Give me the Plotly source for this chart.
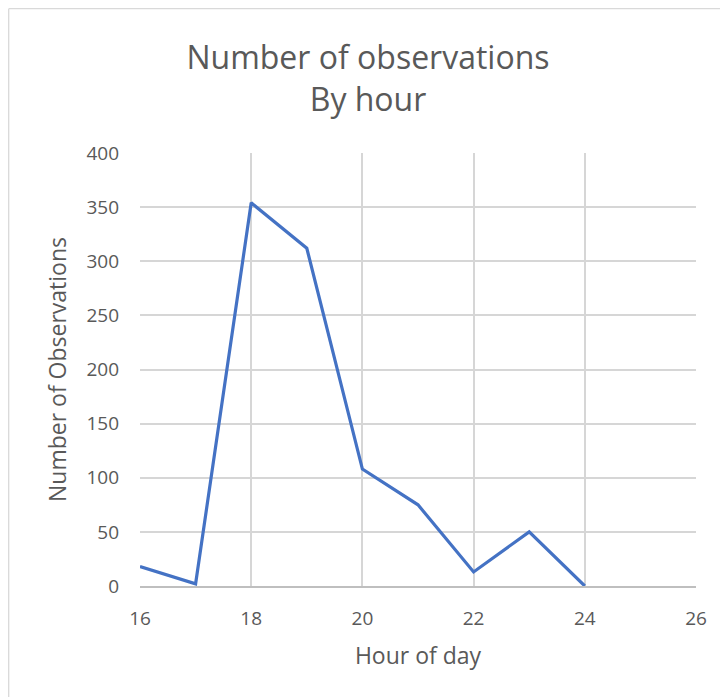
import plotly.graph_objects as go

hours = [16, 17, 18, 19, 20, 21, 22, 23, 24]
observations = [18, 2, 354, 312, 108, 75, 13, 50, 0]

# page body has an 8px margin, so the figure is drawn 8px in and down
W, H = 720, 689
L, T = 132, 145
R, B = 32, 111
pw, ph = W - L - R, H - T - B

fig = go.Figure(go.Scatter(
    x=hours, y=observations, mode="lines",
    line=dict(color="#4472c4", width=3.2), hoverinfo="x+y"))

font = "'Open Sans', Lato, sans-serif"
fig.update_layout(
    width=W, height=H, margin=dict(l=L, r=R, t=T, b=B, autoexpand=False),
    paper_bgcolor="white", plot_bgcolor="white", showlegend=False,
    font=dict(family=font, color="#595959"),
    title=dict(text="Number of observations<br>By hour", x=0.5, xanchor="center",
               y=1 - 61 / H, yanchor="middle", font=dict(size=32, color="#595959")),
    xaxis=dict(range=[16, 26], dtick=2, tick0=16, showgrid=True, gridcolor="#d6d6d6",
               gridwidth=1.5, showline=True, linecolor="#bfbfbf", linewidth=1.5,
               ticks="", tickfont=dict(size=19), zeroline=False, ticklabelstandoff=14,
               title=dict(text="Hour of day", font=dict(size=23), standoff=18)),
    yaxis=dict(range=[0, 400], dtick=50, showgrid=True, gridcolor="#d6d6d6",
               gridwidth=1.5, zeroline=False, ticks="", tickfont=dict(size=19),
               ticklabelstandoff=20,
               title=dict(text="Number of Observations", font=dict(size=23), standoff=13)),
)
# chart border (left and top edges visible)
fig.add_shape(type="line", xref="paper", yref="paper",
              x0=(0.7 - L) / pw, x1=(W + 5 - L) / pw, y0=(H - B - 0.7) / ph, y1=(H - B - 0.7) / ph,
              line=dict(color="#d9d9d9", width=1.3))
fig.add_shape(type="line", xref="paper", yref="paper",
              x0=(0.7 - L) / pw, x1=(0.7 - L) / pw, y0=(H - B - 0.7) / ph, y1=-(B + 5) / ph,
              line=dict(color="#d9d9d9", width=1.3))

fig.write_html("out.html")
